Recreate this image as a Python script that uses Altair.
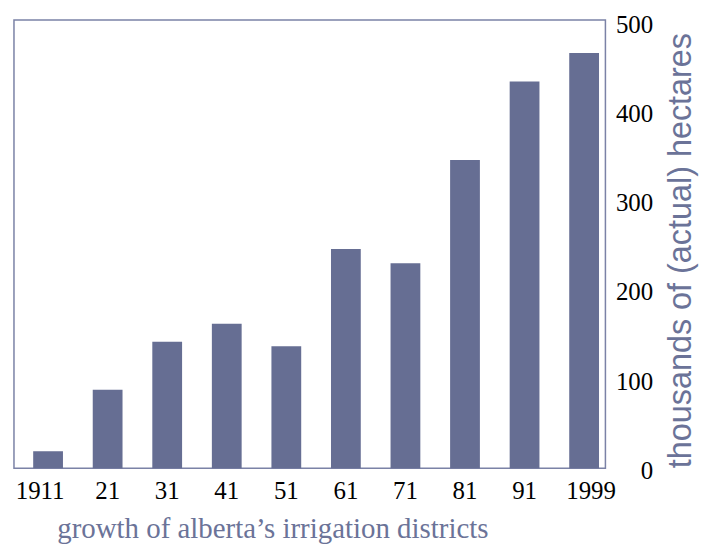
import altair as alt
import pandas as pd

years = ["1911", "21", "31", "41", "51", "61", "71", "81", "91", "1999"]
hectares = [19, 88, 142, 162, 137, 246, 230, 346, 434, 466]
y_ticks = [0, 100, 200, 300, 400, 500]

BAR = "#666e93"
FRAME = "#7b82a6"
TXT = "#6b7398"

df = pd.DataFrame({"year": years, "value": hectares})

chart = alt.Chart(df).mark_bar(color=BAR).encode(
    x=alt.X(
        "year:N",
        sort=years,
        scale=alt.Scale(paddingInner=0.5, paddingOuter=0.215, align=0.75),
        axis=alt.Axis(
            title="growth of alberta\u2019s irrigation districts",
            titleFont="Liberation Serif",
            titleFontSize=29,
            titleFontWeight="normal",
            titleColor=TXT,
            titleX=43,
            titleY=69.5,
            titleAlign="left",
            titleAnchor="start",
            titleBaseline="alphabetic",
            labelAngle=0,
            labelFont="Liberation Serif",
            labelFontSize=25,
            labelColor="black",
            labelBaseline="alphabetic",
            labelPadding=30,
            labelOffset={
                "condition": [
                    {"test": "datum.label == '1911'", "value": -8},
                    {"test": "datum.label == '1999'", "value": 7},
                ],
                "value": 0,
            },
            ticks=False,
            tickSize=0,
            domain=False,
        ),
    ),
    y=alt.Y(
        "value:Q",
        scale=alt.Scale(domain=[0, 503], nice=False),
        axis=alt.Axis(
            orient="right",
            values=y_ticks,
            title="thousands of (actual) hectares",
            titleFont="Liberation Sans",
            titleFontSize=32.5,
            titleFontWeight="normal",
            titleColor=TXT,
            titleAngle=270,
            titleX=85,
            titleY=231,
            titleAlign="center",
            titleBaseline="alphabetic",
            labelFont="Liberation Serif",
            labelFontSize=25,
            labelColor="black",
            labelAlign="right",
            labelBaseline="middle",
            labelPadding=47.5,
            labelOffset=2,
            ticks=False,
            tickSize=0,
            domain=False,
            grid=False,
        ),
    ),
).properties(
    width=594,
    height=450,
    padding={"left": 6, "top": 3, "right": 5, "bottom": 0},
    background="white",
).configure_view(
    stroke=FRAME,
    strokeWidth=1.5,
)

chart.save("out.html", embed_options={"renderer": "svg", "actions": False})
